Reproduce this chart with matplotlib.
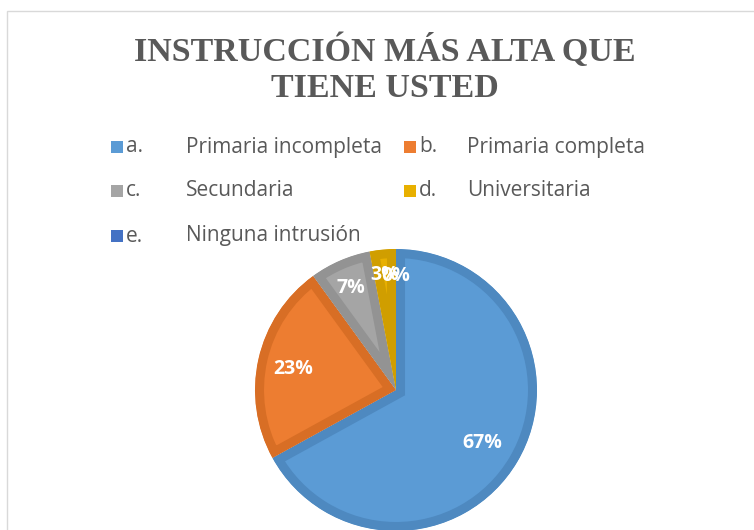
import matplotlib
matplotlib.use("Agg")
import matplotlib.pyplot as plt
from matplotlib.patches import Rectangle
import numpy as np

# Data
categories = ["a.", "b.", "c.", "d.", "e."]
names = ["Primaria incompleta", "Primaria completa", "Secundaria",
         "Universitaria", "Ninguna intrusión"]
values = [67, 23, 7, 3, 0]
labels = ["67%", "23%", "7%", "3%", "0%"]
title = "INSTRUCCIÓN MÁS ALTA QUE\nTIENE USTED"

colors = ["#5B9BD5", "#ED7D31", "#A5A5A5", "#E8B000", "#4472C4"]
edge_colors = ["#4E89C0", "#D86E25", "#939393", "#D09E00", "#3C63AD"]
label_dist = [0.71, 0.75, 0.80, 0.83, 0.82]

W, H = 754, 530
fig = plt.figure(figsize=(W / 100, H / 100), dpi=100)
ax = fig.add_axes([0, 0, 1, 1])

cx, cy, r = 396, H - 390, 141
wedges, _ = ax.pie(values, colors=colors, startangle=90, counterclock=False,
                   center=(cx, cy), radius=r, frame=True,
                   wedgeprops=dict(linewidth=13))
ax.set_xlim(0, W)
ax.set_ylim(0, H)
ax.set_aspect("equal")
ax.axis("off")
for w, ec in zip(wedges, edge_colors):
    w.set_edgecolor(ec)
    w.set_clip_on(True)
    w.set_clip_path(w)

# chart border
ax.add_patch(Rectangle((7, -5), W, H - 11 + 5, fill=False,
                       edgecolor="#D9D9D9", linewidth=1.0, clip_on=False))

for w, lab, d in zip(wedges, labels, label_dist):
    ang = np.deg2rad((w.theta1 + w.theta2) / 2)
    ax.text(cx + d * r * np.cos(ang), cy + d * r * np.sin(ang) - 2, lab,
            color="white", fontsize=14, fontweight="bold",
            family="Open Sans", ha="center", va="center")

# Title
fig.text(385 / W, 1 - 69 / H, title, ha="center", va="center",
         family="Liberation Serif", fontweight="bold", fontsize=24.5,
         color="#595959", linespacing=1.22)

# Legend (manual)
col_x = [111, 404]
name_x = [186, 467]
row_y = [147, 191, 236]
for i, (cat, nm, c) in enumerate(zip(categories, names, colors)):
    col, row = i % 2, i // 2
    x, y = col_x[col], H - row_y[row]
    ax.add_patch(Rectangle((x, y - 6), 12, 12, facecolor=c, edgecolor="none"))
    ax.text(x + 15, y, cat, fontsize=15, color="#595959", family="Open Sans",
            va="center", ha="left")
    ax.text(name_x[col], y, nm, fontsize=15, color="#595959",
            family="Open Sans", va="center", ha="left")

fig.savefig("out.png", dpi=100)
